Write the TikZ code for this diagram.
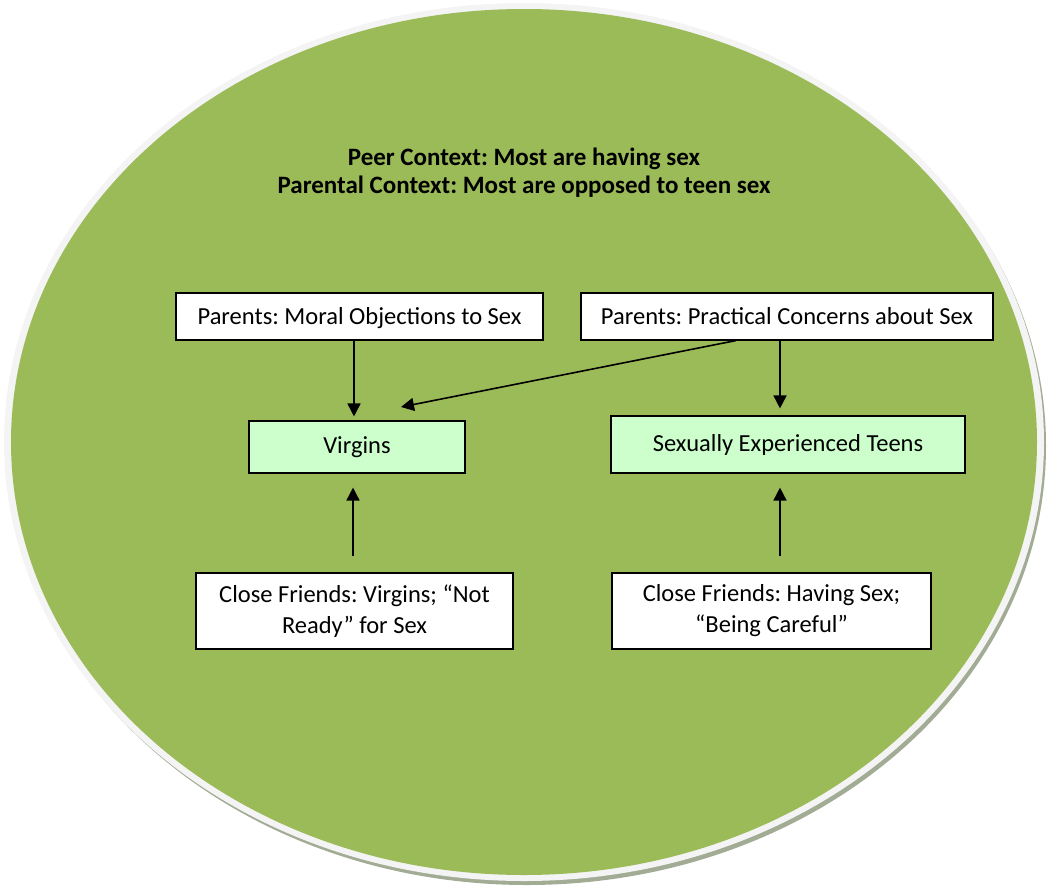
\documentclass[tikz,border=0pt]{standalone}
\usepackage{fontspec}
\setmainfont{Carlito}
\frenchspacing
\usetikzlibrary{arrows.meta}
\definecolor{olivegreen}{HTML}{9BBB59}
\definecolor{rimwhite}{HTML}{F4F4F4}
\definecolor{shadowgray}{HTML}{A2AC94}
\definecolor{boxgreen}{HTML}{CCFFCC}
\tikzset{
  box/.style={draw=black, line width=1.1pt, fill=white, inner sep=0pt, align=center,
    font=\fontsize{24.5}{31}\selectfont},
  gbox/.style={box, fill=boxgreen},
  arr/.style={-{Triangle[width=13pt,length=13pt]}, line width=1.6pt, black},
  title/.style={font=\fontsize{25}{28}\selectfont\bfseries, align=center, inner sep=0pt}
}
\begin{document}
\frenchspacing
\begin{tikzpicture}[x=1pt,y=-1pt]
\useasboundingbox (0,0) rectangle (1050,889);
% ellipse with rim and shadow
\fill[shadowgray] (527,446) ellipse [x radius=519, y radius=439];
\fill[rimwhite] (524,442) ellipse [x radius=520, y radius=439];
\fill[olivegreen] (524,442) ellipse [x radius=513, y radius=433];
% title
\node[title] (ttl) at (524,173) {Peer Context: Most are having sex\\Parental Context: Most are opposed to teen sex};
% boxes
\node[box, minimum width=367pt, minimum height=47pt, text depth=2pt] (moral) at (359.5,316.5) {Parents: Moral Objections to Sex};
\node[box, minimum width=412pt, minimum height=47pt, text depth=2pt] (prac) at (787,316.5) {Parents: Practical Concerns about Sex};
\node[gbox, minimum width=216pt, minimum height=52pt] (virg) at (357,447) {Virgins};
\node[gbox, minimum width=354pt, minimum height=57pt] (set) at (788,444.5) {Sexually Experienced Teens};
\node[box, minimum width=317pt, minimum height=76pt] (cfv) at (354.5,611) {Close Friends: Virgins; \textquotedblleft Not\\Ready\textquotedblright\ for Sex\rule[-3pt]{0pt}{0pt}};
\node[box, minimum width=319pt, minimum height=76pt] (cfs) at (771.5,611) {Close Friends: Having Sex;\\\textquotedblleft Being Careful\textquotedblright\rule[-3pt]{0pt}{0pt}};
% arrow tip coordinate for diagonal
\coordinate (vtip) at (401,407);
% connectors
\draw[arr, shorten >=4pt] ([xshift=-3pt]virg.north |- moral.south) -- ([xshift=-3pt]virg.north);
\draw[arr] ([xshift=-51pt]prac.south) -- (vtip);
\draw[arr, shorten >=7pt] ([xshift=-8pt]set.north |- prac.south) -- ([xshift=-8pt]set.north);
\draw[arr, shorten <=16pt, shorten >=14pt] ([xshift=-4pt]virg.south |- cfv.north) -- ([xshift=-4pt]virg.south);
\draw[arr, shorten <=16pt, shorten >=14pt] ([xshift=-8pt]set.south |- cfs.north) -- ([xshift=-8pt]set.south);
\end{tikzpicture}
\end{document}
